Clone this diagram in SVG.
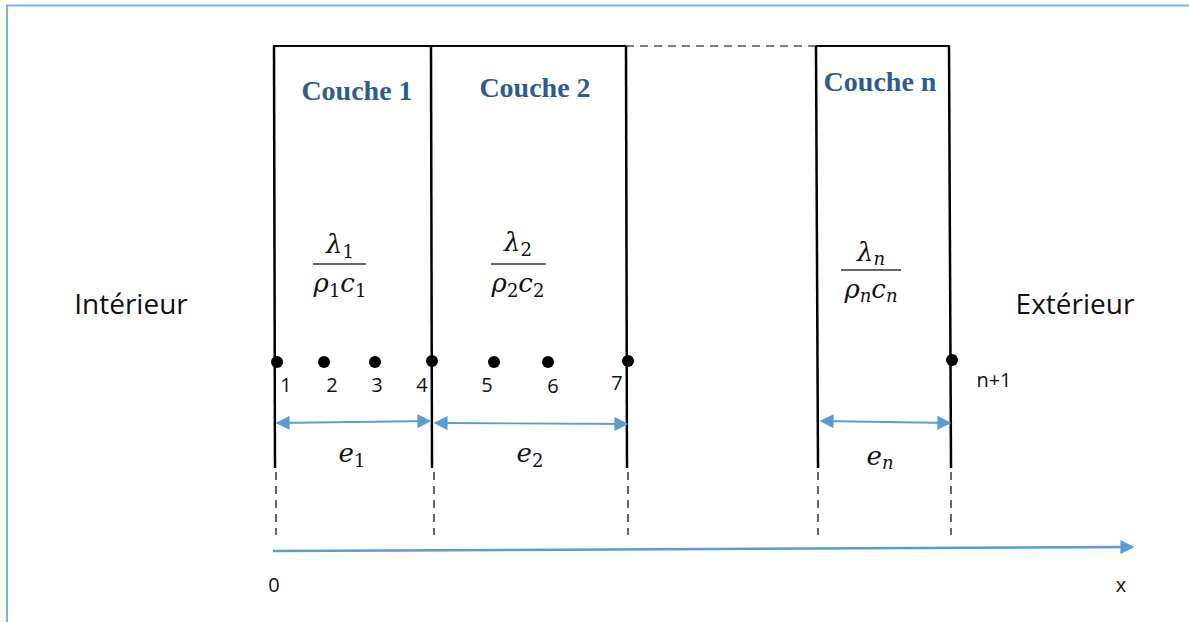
<svg xmlns="http://www.w3.org/2000/svg" width="1189" height="622" viewBox="0 0 1189 622">
<style>
.wall{stroke:#000;stroke-width:2.5;fill:none}
.top{stroke:#000;stroke-width:2;fill:none}
.dash{stroke:#000;stroke-width:1.2;stroke-dasharray:8,6;fill:none}
.blue{stroke:#5B9BD5;stroke-width:1.8;fill:none}
.title{font-family:"Liberation Serif",serif;font-weight:bold;font-size:28px;fill:#2E5D8C;text-anchor:middle}
.lbl{font-family:"Open Sans","Noto Sans",sans-serif;font-size:28px;fill:#111;text-anchor:middle}
.num{font-family:"Open Sans","Noto Sans",sans-serif;font-size:20px;fill:#111;text-anchor:middle}
.math{font-family:"DejaVu Serif","Liberation Serif",serif;font-style:italic;font-size:26px;fill:#111;text-anchor:middle}
.sub{font-style:normal;font-size:18px}
.subi{font-size:18px}
</style>
<defs>
<marker id="ah2" viewBox="0 0 10 10" refX="9" refY="5" markerWidth="16" markerHeight="14" orient="auto-start-reverse" markerUnits="userSpaceOnUse">
<path d="M0,0 L10,5 L0,10 z" fill="#5B9BD5"/>
</marker>
</defs>
<rect x="7" y="5.5" width="1200" height="640" fill="none" stroke="#7EB0E6" stroke-width="2"/>
<g id="structure">
<path class="top" d="M273,46 H626 M816,46 H950"/>
<path class="dash" d="M626,46 H816" stroke-dasharray="10,7"/>
</g>
<g id="couche1">
<text class="title" x="357" y="100">Couche 1</text>
<text class="math" x="340" y="253">λ<tspan class="sub" dy="5">1</tspan></text>
<line x1="313" y1="264" x2="366" y2="264" stroke="#333" stroke-width="1.5"/>
<text class="math" x="340" y="292">ρ<tspan class="sub" dy="5">1</tspan><tspan dy="-5">c</tspan><tspan class="sub" dy="5">1</tspan></text>
</g>
<g id="couche2">
<text class="title" x="535" y="97">Couche 2</text>
<text class="math" x="518" y="251">λ<tspan class="sub" dy="5">2</tspan></text>
<line x1="491" y1="264" x2="546" y2="264" stroke="#333" stroke-width="1.5"/>
<text class="math" x="518" y="292">ρ<tspan class="sub" dy="5">2</tspan><tspan dy="-5">c</tspan><tspan class="sub" dy="5">2</tspan></text>
</g>
<g id="couchen">
<text class="title" x="880" y="91">Couche n</text>
<text class="math" x="871" y="261">λ<tspan class="subi" dy="4">n</tspan></text>
<line x1="841" y1="270" x2="901" y2="270" stroke="#333" stroke-width="1.5"/>
<text class="math" x="871" y="298">ρ<tspan class="subi" dy="4">n</tspan><tspan dy="-4">c</tspan><tspan class="subi" dy="4">n</tspan></text>
</g>
<g id="walls">
<line class="wall" x1="274" y1="46" x2="275" y2="468"/>
<line class="wall" x1="431" y1="46" x2="432" y2="468"/>
<line class="wall" x1="626" y1="46" x2="627" y2="468"/>
<line class="wall" x1="816" y1="46" x2="818" y2="468"/>
<line class="wall" x1="949" y1="46" x2="951" y2="468"/>
</g>
<g id="dashes">
<line class="dash" x1="276" y1="472" x2="276" y2="535"/>
<line class="dash" x1="434" y1="472" x2="434" y2="535"/>
<line class="dash" x1="628" y1="472" x2="628" y2="535"/>
<line class="dash" x1="818" y1="472" x2="818" y2="535"/>
<line class="dash" x1="951" y1="472" x2="951" y2="535"/>
</g>
<g id="nodes">
<circle cx="277" cy="362" r="6"/>
<circle cx="324" cy="362" r="6"/>
<circle cx="375" cy="362" r="6"/>
<circle cx="432" cy="361" r="6"/>
<circle cx="494" cy="362" r="6"/>
<circle cx="548" cy="362" r="6"/>
<circle cx="628" cy="361" r="6"/>
<circle cx="952" cy="360" r="6"/>
<text class="num" x="286" y="392">1</text>
<text class="num" x="332" y="392">2</text>
<text class="num" x="377" y="392">3</text>
<text class="num" x="422" y="392">4</text>
<text class="num" x="487" y="392">5</text>
<text class="num" x="553" y="393">6</text>
<text class="num" x="617" y="390">7</text>
<text class="num" x="994" y="387">n+1</text>
</g>
<g id="connectors">
<line class="blue" x1="277" y1="423" x2="430" y2="421" marker-start="url(#ah2)" marker-end="url(#ah2)"/>
<line class="blue" x1="435" y1="423" x2="627" y2="424" marker-start="url(#ah2)" marker-end="url(#ah2)"/>
<line class="blue" x1="821" y1="421" x2="950" y2="423" marker-start="url(#ah2)" marker-end="url(#ah2)"/>
<line x1="273" y1="551" x2="1133" y2="547" stroke="#5B9BD5" stroke-width="2.5" marker-end="url(#ah2)"/>
</g>
<g id="dims">
<text class="math" x="352" y="462">e<tspan class="sub" dy="5">1</tspan></text>
<text class="math" x="530" y="462">e<tspan class="sub" dy="5">2</tspan></text>
<text class="math" x="880" y="465">e<tspan class="subi" dy="4">n</tspan></text>
</g>
<g id="labels">
<text class="lbl" x="131" y="314">Intérieur</text>
<text class="lbl" x="1075" y="314">Extérieur</text>
<text class="num" x="274" y="592">0</text>
<text class="num" x="1121" y="592">x</text>
</g>
</svg>
